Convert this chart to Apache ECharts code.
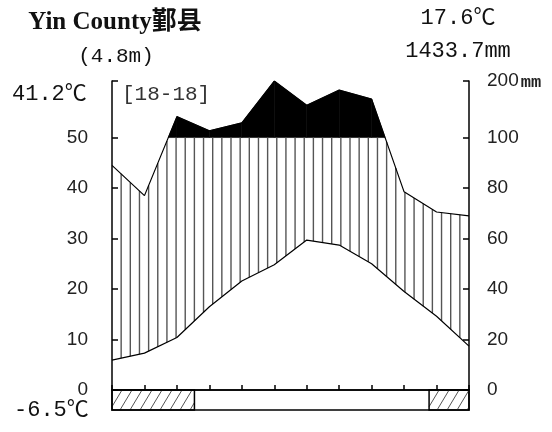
<!DOCTYPE html>
<html>
<head>
<meta charset="utf-8">
<script src="https://cdn.jsdelivr.net/npm/echarts@6/dist/echarts.min.js"></script>
<style>
html,body{margin:0;padding:0;background:#fff;}
#chart{width:552px;height:432px;}
</style>
</head>
<body>
<div id="chart"></div>
<script>
// ---- data ----
const months = ['1','2','3','4','5','6','7','8','9','10','11','12'];
const tempC = [5.9, 7.3, 10.4, 16.5, 21.6, 24.8, 29.7, 28.7, 25.0, 19.5, 14.6, 8.7];
const precipMm = [89, 77, 137, 112, 126, 200, 157, 184, 168, 78.5, 70.5, 69];
const tempTickLabels = [0, 10, 20, 30, 40, 50];
const precipTickLabels = [0, 20, 40, 60, 80, 100, 200];
const frostPeriods = [[0, 2.54], [9.77, 11]];
const stationName = 'Yin County鄞县';
const altitude = '(4.8m)';
const meanTemp = '17.6℃';
const annualPrecip = '1433.7mm';
const absMax = '41.2℃';
const absMin = '-6.5℃';
const yearsText = '[18-18]';

// ---- scale (temperature units; precipitation 2mm = 1°C up to 100mm, compressed above) ----
const YMAX = 61.2;
function uOfP(p) { return p <= 100 ? p / 2 : 50 + (p - 100) / 100 * (YMAX - 50); }
const precipU = precipMm.map(uOfP);
const tickU = [0, 10, 20, 30, 40, 50, YMAX];

const chart = echarts.init(document.getElementById('chart'), null, {renderer: 'canvas'});

function renderClimate(params, api) {
  const children = [];
  const y100 = api.coord([0, 50])[1];
  const n = tempC.length;
  // perhumid black area
  for (let i = 0; i < n - 1; i++) {
    const a = api.coord([i, precipU[i]]);
    const b = api.coord([i + 1, precipU[i + 1]]);
    let pts = null;
    if (a[1] < y100 && b[1] < y100) {
      pts = [a, b, [b[0], y100], [a[0], y100]];
    } else if (a[1] < y100 || b[1] < y100) {
      const t = (y100 - a[1]) / (b[1] - a[1]);
      const cx = a[0] + t * (b[0] - a[0]);
      pts = a[1] < y100 ? [a, [cx, y100], [a[0], y100]] : [[cx, y100], b, [b[0], y100]];
    }
    if (pts) children.push({type: 'polygon', shape: {points: pts}, style: {fill: '#000', stroke: '#000', lineWidth: 0.6}});
  }
  // humid vertical hatching
  const N = 39;
  for (let k = 1; k < N; k++) {
    const x = k * (n - 1) / N;
    const i = Math.min(Math.floor(x), n - 2);
    const t = x - i;
    const t0 = api.coord([i, tempC[i]]), t1 = api.coord([i + 1, tempC[i + 1]]);
    const p0 = api.coord([i, precipU[i]]), p1 = api.coord([i + 1, precipU[i + 1]]);
    const px = t0[0] + t * (t1[0] - t0[0]);
    const yT = t0[1] + t * (t1[1] - t0[1]);
    const yP = Math.max(p0[1] + t * (p1[1] - p0[1]), y100);
    if (yT > yP) children.push({type: 'line', shape: {x1: px, y1: yT, x2: px, y2: yP}, style: {stroke: '#555', lineWidth: 1.4}});
  }
  return {type: 'group', children};
}

function renderFrost(params, api) {
  const children = [];
  const per = frostPeriods[params.dataIndex];
  const tl = api.coord([per[0], 1]);
  const br = api.coord([per[1], 0]);
  const x0 = tl[0], x1 = br[0], yT = tl[1], yB = br[1];
  const H = yB - yT, r = 0.6, step = 10;
  for (let c = x0 - H * r; c < x1; c += step) {
    let sx = c, sy = yB, ex = c + H * r, ey = yT;
    if (sx < x0) { sy = yB - (x0 - c) / r; sx = x0; }
    if (ex > x1) { ey = yB - (x1 - c) / r; ex = x1; }
    if (ex > sx) children.push({type: 'line', shape: {x1: sx, y1: sy, x2: ex, y2: ey}, style: {stroke: '#555', lineWidth: 1}});
  }
  children.push({type: 'rect', shape: {x: x0, y: yT, width: x1 - x0, height: H}, style: {fill: null, stroke: '#000', lineWidth: 1.5}});
  if (params.dataIndex === 0) {
    const a = api.coord([0, 1]), b = api.coord([months.length - 1, 0]);
    children.push({type: 'rect', shape: {x: a[0], y: a[1], width: b[0] - a[0], height: b[1] - a[1]}, style: {fill: null, stroke: '#000', lineWidth: 1.5}});
  }
  return {type: 'group', children};
}

const labelFont = "'Liberation Sans Narrow', 'Liberation Sans', sans-serif";
const monoFont = "'Liberation Mono', 'Noto Sans CJK SC', monospace";

const option = {
  animation: false,
  backgroundColor: '#fff',
  grid: [
    {left: 112, right: 83, top: 81, bottom: 42},
    {left: 112, right: 83, top: 390, bottom: 22}
  ],
  xAxis: [
    {gridIndex: 0, type: 'value', min: 0, max: 11, interval: 1,
     axisLine: {show: true, lineStyle: {color: '#000', width: 1.5}},
     axisTick: {show: true, inside: true, length: 5, lineStyle: {color: '#000', width: 1.5}},
     axisLabel: {show: false}, splitLine: {show: false}},
    {gridIndex: 1, type: 'value', min: 0, max: 11, show: false}
  ],
  yAxis: [
    {gridIndex: 0, type: 'value', min: 0, max: YMAX, position: 'left',
     axisLine: {show: true, lineStyle: {color: '#000', width: 1.5}},
     axisTick: {show: true, inside: true, length: 6, customValues: tickU, lineStyle: {color: '#000', width: 1.5}},
     axisLabel: {customValues: tempTickLabels, margin: 24, fontSize: 19, fontFamily: labelFont, color: '#222'},
     splitLine: {show: false}},
    {gridIndex: 0, type: 'value', min: 0, max: YMAX, position: 'right',
     axisLine: {show: true, lineStyle: {color: '#000', width: 1.5}},
     axisTick: {show: true, inside: true, length: 6, customValues: tickU, lineStyle: {color: '#000', width: 1.5}},
     axisLabel: {customValues: tickU, margin: 18, fontSize: 19, fontFamily: labelFont, color: '#222',
       formatter: function (v) {
         const idx = tickU.findIndex(t => Math.abs(t - v) < 1e-6);
         const lab = precipTickLabels[idx];
         return idx === tickU.length - 1 ? '{n|' + lab + '}{u|mm}' : String(lab);
       },
       rich: {n: {fontSize: 19, fontFamily: labelFont, color: '#222'},
              u: {fontSize: 17, fontWeight: 'bold', fontFamily: monoFont, color: '#222', padding: [3, 0, 0, 2]}}},
     splitLine: {show: false}},
    {gridIndex: 1, type: 'value', min: 0, max: 1, show: false}
  ],
  series: [
    {type: 'custom', xAxisIndex: 0, yAxisIndex: 0, data: [[0, 0]], renderItem: renderClimate, z: 1, silent: true, clip: false},
    {type: 'line', xAxisIndex: 0, yAxisIndex: 0, data: tempC.map((v, i) => [i, v]), symbol: 'none',
     lineStyle: {color: '#000', width: 1.2}, z: 5, silent: true},
    {type: 'line', xAxisIndex: 0, yAxisIndex: 0, data: precipU.map((v, i) => [i, v]), symbol: 'none',
     lineStyle: {color: '#000', width: 1.2}, z: 5, silent: true},
    {type: 'custom', xAxisIndex: 1, yAxisIndex: 2, data: frostPeriods.map(p => [p[0], p[1]]), renderItem: renderFrost, z: 3, silent: true, clip: false}
  ],
  graphic: [
    {type: 'text', style: {text: stationName, x: 115, y: 23, textAlign: 'center', textVerticalAlign: 'middle',
      font: "bold 25px 'Liberation Serif', 'Noto Sans CJK SC', serif", fill: '#111'}},
    {type: 'text', style: {text: altitude, x: 116, y: 56, textAlign: 'center', textVerticalAlign: 'middle',
      font: "21px " + monoFont, fill: '#111'}},
    {type: 'text', style: {text: meanTemp, x: 458, y: 18, textAlign: 'center', textVerticalAlign: 'middle',
      font: "22px " + monoFont, fill: '#111'}},
    {type: 'text', style: {text: annualPrecip, x: 458, y: 51, textAlign: 'center', textVerticalAlign: 'middle',
      font: "22px " + monoFont, fill: '#111'}},
    {type: 'text', style: {text: absMax, x: 12, y: 94, textAlign: 'left', textVerticalAlign: 'middle',
      font: "22px " + monoFont, fill: '#111'}},
    {type: 'text', style: {text: yearsText, x: 122, y: 94, textAlign: 'left', textVerticalAlign: 'middle',
      font: "21px " + monoFont, fill: '#333'}},
    {type: 'text', style: {text: absMin, x: 14, y: 410, textAlign: 'left', textVerticalAlign: 'middle',
      font: "22px " + monoFont, fill: '#111'}}
  ]
};
chart.setOption(option);
</script>
</body>
</html>
